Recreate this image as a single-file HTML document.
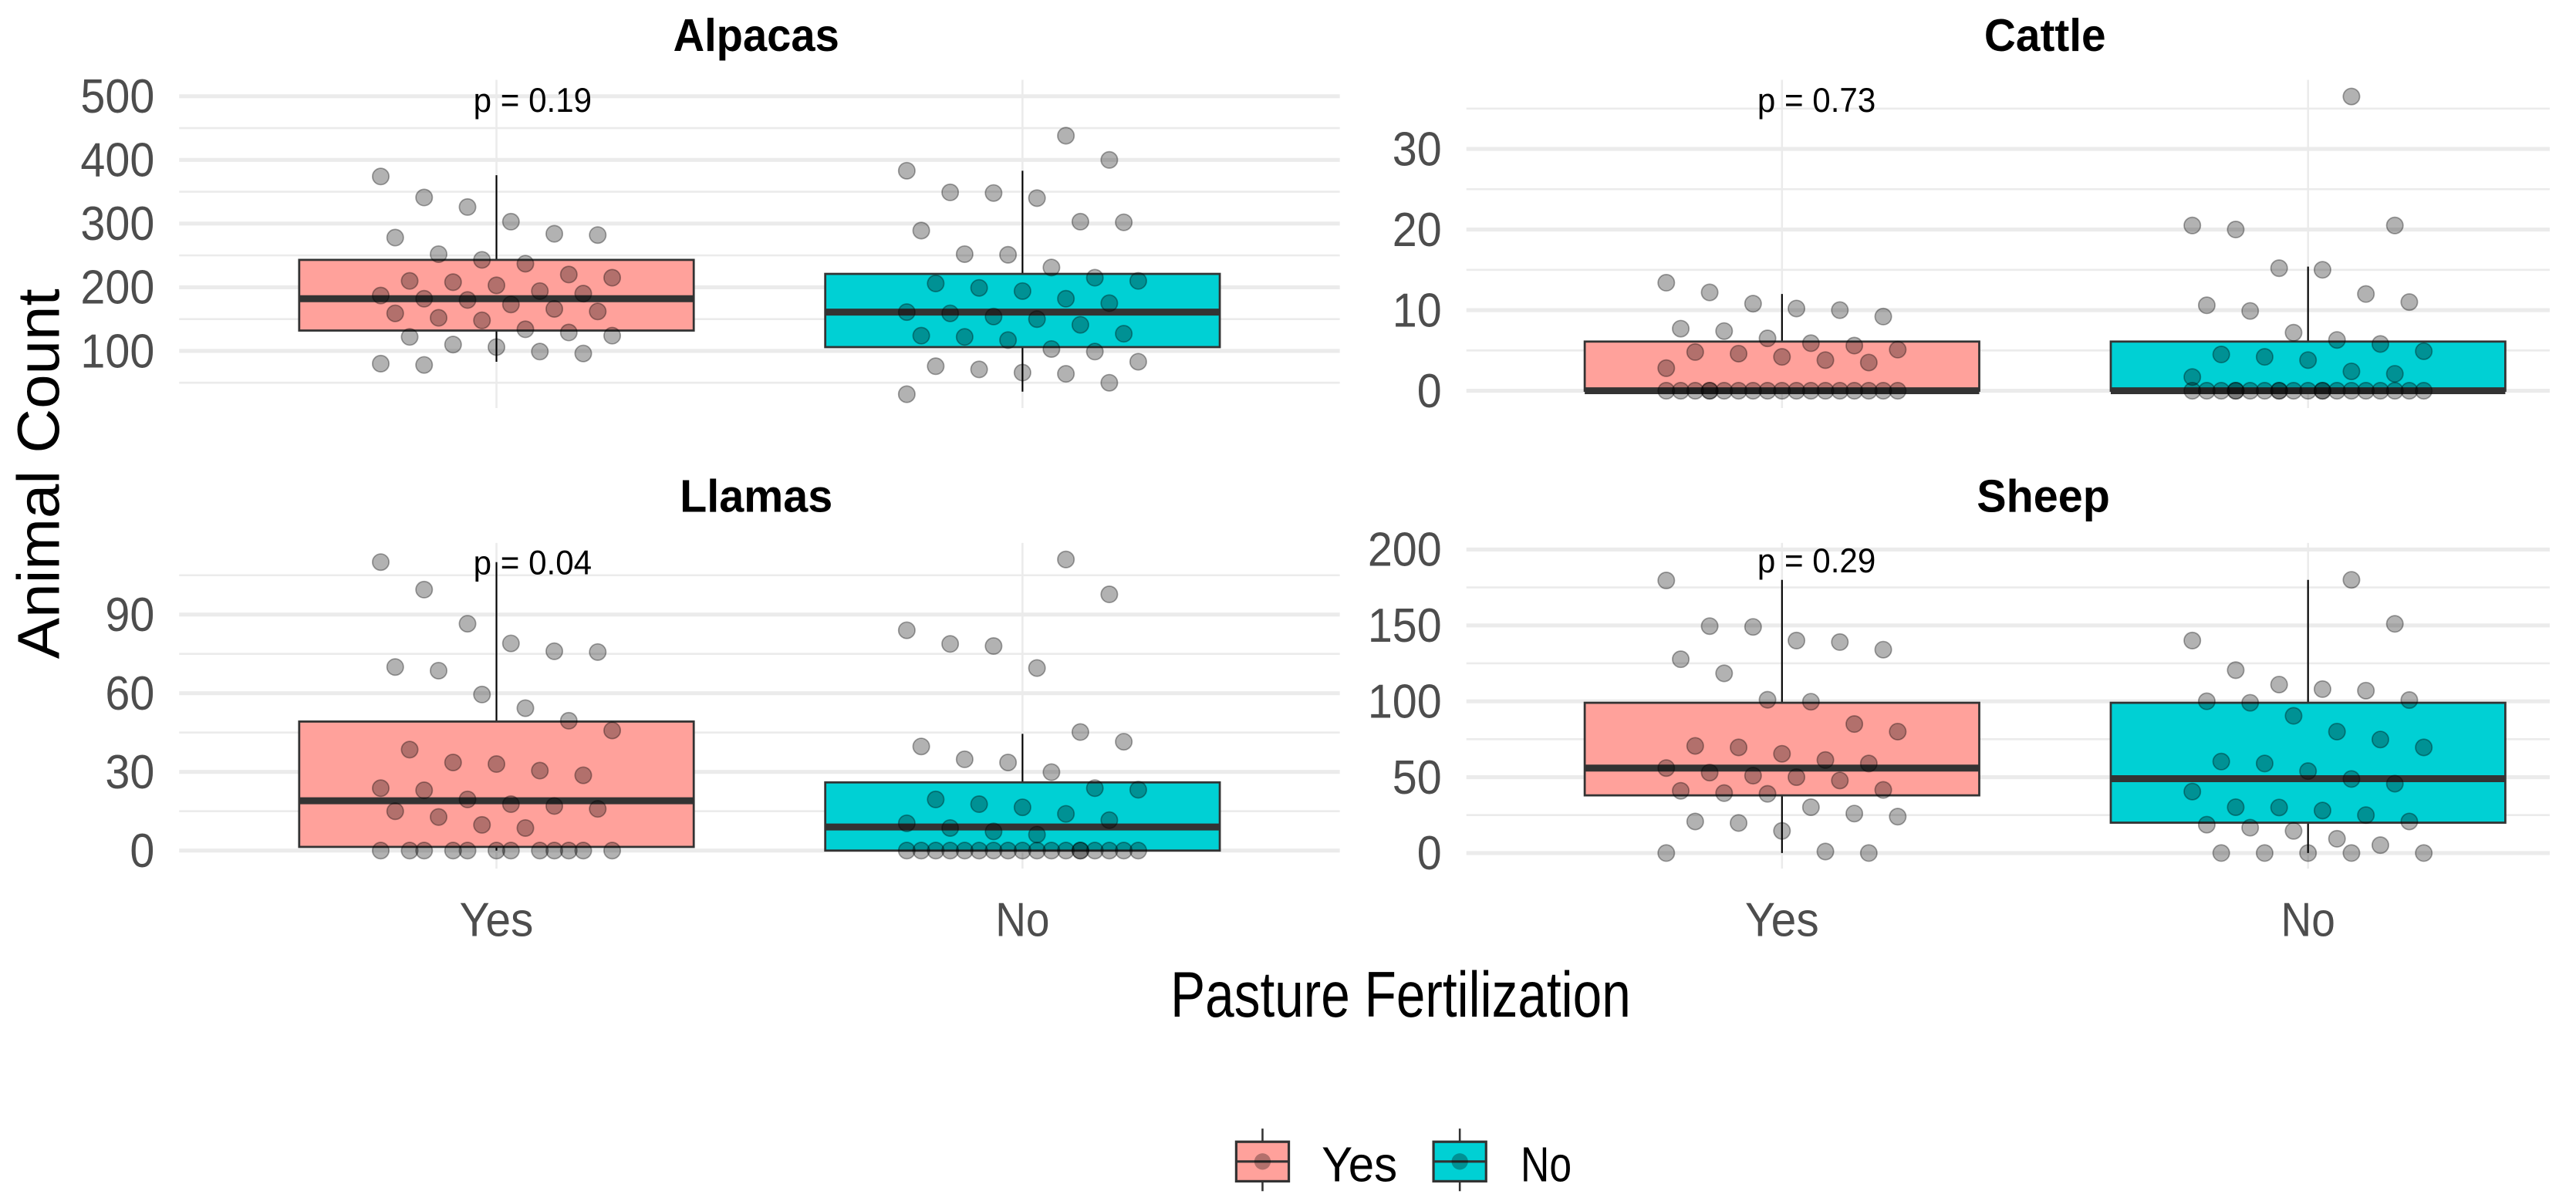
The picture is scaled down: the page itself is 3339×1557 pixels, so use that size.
<!DOCTYPE html>
<html><head><meta charset="utf-8"><style>html,body{margin:0;padding:0;background:#fff}svg{display:block}</style></head>
<body>
<svg id="chart" xmlns="http://www.w3.org/2000/svg" width="3339" height="1557" viewBox="0 0 1567 730" preserveAspectRatio="none" font-family="Liberation Sans, Arial, sans-serif">
<rect x="0" y="0" width="1567" height="730" fill="#fff"/>
<g id="layer"></g>
<text x="852" y="618" font-size="39" text-anchor="middle" textLength="280" lengthAdjust="spacingAndGlyphs" fill="#000">Pasture Fertilization</text>
<text transform="translate(36,288) rotate(-90)" font-size="36" text-anchor="middle" textLength="225" lengthAdjust="spacingAndGlyphs" fill="#000">Animal Count</text>
<g>
  <g>
    <line x1="768" y1="686" x2="768" y2="724" stroke="#333" stroke-width="1.2"/>
    <rect x="752" y="694" width="32" height="24" fill="#ffa19b" stroke="#333" stroke-width="1.5"/>
    <line x1="752" y1="706" x2="784" y2="706" stroke="#333" stroke-width="1.5"/>
    <circle cx="768" cy="706" r="5" fill="rgba(0,0,0,0.3)"/>
    <text x="804" y="718" font-size="30" textLength="46" lengthAdjust="spacingAndGlyphs" fill="#000">Yes</text>
  </g>
  <g>
    <line x1="888" y1="686" x2="888" y2="724" stroke="#333" stroke-width="1.2"/>
    <rect x="872" y="694" width="32" height="24" fill="#00d0d4" stroke="#333" stroke-width="1.5"/>
    <line x1="872" y1="706" x2="904" y2="706" stroke="#333" stroke-width="1.5"/>
    <circle cx="888" cy="706" r="5" fill="rgba(0,0,0,0.3)"/>
    <text x="925" y="718" font-size="30" textLength="31" lengthAdjust="spacingAndGlyphs" fill="#000">No</text>
  </g>
</g>
</svg>
<script>
// ---- data ----
const categories = ["Yes", "No"];
const panelNames = ["Alpacas", "Cattle", "Llamas", "Sheep"];
const pValues = ["p = 0.19", "p = 0.73", "p = 0.04", "p = 0.29"];
const alpacasTicks = [100, 200, 300, 400, 500];
const cattleTicks = [0, 10, 20, 30];
const llamasTicks = [0, 30, 60, 90];
const sheepTicks = [0, 50, 100, 150, 200];
// box stats [lowerWhisker, q1, median, q3, upperWhisker] for Yes, No
const alpacasBoxYes = [83, 132, 182, 243, 376];
const alpacasBoxNo = [36, 106, 161, 221, 383];
const cattleBoxYes = [0, 0, 0, 6.1, 12];
const cattleBoxNo = [0, 0, 0, 6.1, 15.4];
const llamasBoxYes = [0, 1.4, 19, 49.2, 110];
const llamasBoxNo = [0, 0, 9, 26, 44.5];
const sheepBoxYes = [0, 38, 56, 99, 180];
const sheepBoxNo = [0, 20, 49, 99, 180];
// raw points
const alpacasYes = [374,341,326,303,284,282,278,252,243,237,220,215,210,208,203,194,190,187,182,180,173,166,162,159,152,148,134,129,124,122,110,106,99,96,80,78];
const alpacasNo = [438,400,383,349,348,340,303,302,289,252,251,231,215,210,206,199,194,182,175,161,159,154,150,141,127,124,122,117,103,99,83,76,71,66,64,50,32];
const cattleYes = [13.4,12.2,10.8,10.2,10,9.2,7.7,7.4,6.5,5.9,5.6,5.1,4.8,4.6,4.2,3.8,3.5,2.8,0,0,0,0,0,0,0,0,0,0,0,0,0,0,0,0,0,0];
const cattleNo = [36.5,20.5,20.5,20,15.2,15,12,11,10.6,9.9,7.2,6.3,5.8,4.9,4.5,4.2,3.8,2.4,2.1,1.7,0,0,0,0,0,0,0,0,0,0,0,0,0,0,0,0,0,0,0,0];
const llamasYes = [110,99.5,86.5,79,76,75.7,70,68.6,59.5,54.3,49.5,45.8,38.5,33.6,33,30.5,28.7,23.8,23,19.5,17.7,17,15.9,15,12.8,9.8,8.6,0,0,0,0,0,0,0,0,0,0,0,0];
const llamasNo = [111,97.7,84,78.8,78,69.6,45.2,41.5,39.7,34.8,33.6,29.9,23.8,23.2,19.5,17.7,16.5,14,11.6,10.4,8.6,7.3,6.1,0,0,0,0,0,0,0,0,0,0,0,0,0,0,0,0,0,0];
const sheepYes = [179.6,149.5,149,140,139,134,127.7,118.4,101,99.7,85,80,70.6,69.6,65.4,61.3,59,56,53,51,50,47.8,41.6,41,39.5,39,30.2,26,24,20.8,19.8,14.6,1,0,0];
const sheepNo = [180,151,140,120.5,111,108,107,100.8,100,99,90.4,80,74.8,69.6,60.3,59,54,48.8,45.7,40.5,30.2,30,28,25,20.8,18.7,16.7,14.6,9.4,5.2,0,0,0,0,0];

// ---- layout (viewBox units) ----
const panels = [
  {name: panelNames[0], p: pValues[0], ticks: alpacasTicks, step: 50, max: 500, min: 50, y0: 252, k: 0.387, cx: [302, 622], x0: 109, x1: 815, top: 48.5, bot: 248, titleX: 460, titleY: 31, titleW: 101, pX: 324, pY: 68, boxes: [alpacasBoxYes, alpacasBoxNo], pts: [alpacasYes, alpacasNo], xlab: false},
  {name: panelNames[1], p: pValues[1], ticks: cattleTicks, step: 5, max: 35, min: 0, y0: 237.5, k: 4.9, cx: [1084, 1404], x0: 892, x1: 1551, top: 48.5, bot: 248, titleX: 1244, titleY: 31, titleW: 74, pX: 1105, pY: 68, boxes: [cattleBoxYes, cattleBoxNo], pts: [cattleYes, cattleNo], xlab: false},
  {name: panelNames[2], p: pValues[2], ticks: llamasTicks, step: 15, max: 105, min: 0, y0: 517, k: 1.594, cx: [302, 622], x0: 109, x1: 815, top: 330, bot: 528, titleX: 460, titleY: 311, titleW: 93, pX: 324, pY: 349, boxes: [llamasBoxYes, llamasBoxNo], pts: [llamasYes, llamasNo], xlab: true},
  {name: panelNames[3], p: pValues[3], ticks: sheepTicks, step: 25, max: 200, min: 0, y0: 518.5, k: 0.9225, cx: [1084, 1404], x0: 892, x1: 1551, top: 330, bot: 528, titleX: 1243, titleY: 311, titleW: 81, pX: 1105, pY: 348, boxes: [sheepBoxYes, sheepBoxNo], pts: [sheepYes, sheepNo], xlab: true}
];
const fills = ["#ffa19b", "#00d0d4"];
const xLabelWidths = [45, 33];
const NS = "http://www.w3.org/2000/svg";
const layer = document.getElementById("layer");
function mk(tag, attrs, parent) {
  const e = document.createElementNS(NS, tag);
  for (const a in attrs) e.setAttribute(a, attrs[a]);
  parent.appendChild(e);
  return e;
}
panels.forEach(function (P) {
  const slug = P.name.toLowerCase();
  const yS = v => P.y0 - P.k * v;
  const g = mk("g", {}, layer);
  
  
  for (let v = P.min; v <= P.max + 1e-9; v += P.step) {
    const major = P.ticks.indexOf(v) >= 0;
    const l = mk("line", {x1: P.x0, x2: P.x1, y1: yS(v), y2: yS(v), stroke: "#ebebeb", "stroke-width": major ? 2.4 : 1.2}, g);
    
    
  }
  P.cx.forEach(function (c) {
    const l = mk("line", {x1: c, x2: c, y1: P.top, y2: P.bot, stroke: "#ebebeb", "stroke-width": 1.2}, g);
    
    
  });
  P.ticks.forEach(function (t) {
    const tx = mk("text", {x: P.x0 - 15, y: yS(t) + 10, "font-size": 29, "text-anchor": "end", fill: "#4d4d4d", textLength: String(t).length * 15, lengthAdjust: "spacingAndGlyphs"}, g);
    tx.textContent = t;
    
    
  });
  const tt = mk("text", {x: P.titleX, y: P.titleY, "font-size": 28, "font-weight": "bold", "text-anchor": "middle", fill: "#000", textLength: P.titleW, lengthAdjust: "spacingAndGlyphs"}, g);
  tt.textContent = P.name;
  
  
  P.boxes.forEach(function (b, i) {
    const c = P.cx[i];
    const w = mk("line", {x1: c, x2: c, y1: yS(b[4]), y2: yS(b[0]), stroke: "#000", "stroke-width": 1}, g);
    
    
    const r = mk("rect", {x: c - 120, width: 240, y: yS(b[3]), height: Math.max(yS(b[1]) - yS(b[3]), 0.5), fill: fills[i], stroke: "#333", "stroke-width": 1.3}, g);
    
    
    const m = mk("line", {x1: c - 120, x2: c + 120, y1: yS(b[2]), y2: yS(b[2]), stroke: "#333", "stroke-width": 4.2}, g);
    
    
  });
  P.pts.forEach(function (arr, i) {
    arr.forEach(function (v, j) {
      const off = (((j * 37 + i * 11) % 17) / 16 - 0.5) * 0.44 * 320;
      const pt = mk("circle", {cx: P.cx[i] + off, cy: yS(v), r: 5, fill: "rgba(0,0,0,0.3)", stroke: "rgba(0,0,0,0.35)", "stroke-width": 0.8}, g);
      
      
    });
  });
  const pt = mk("text", {x: P.pX, y: P.pY, "font-size": 21, "text-anchor": "middle", fill: "#000", textLength: 72, lengthAdjust: "spacingAndGlyphs"}, g);
  pt.textContent = P.p;
  
  
  if (P.xlab) {
    categories.forEach(function (cat, i) {
      const xt = mk("text", {x: P.cx[i], y: 569, "font-size": 29, "text-anchor": "middle", fill: "#4d4d4d", textLength: xLabelWidths[i], lengthAdjust: "spacingAndGlyphs"}, g);
      xt.textContent = cat;
      
      
    });
  }
});
</script>
</body></html>
